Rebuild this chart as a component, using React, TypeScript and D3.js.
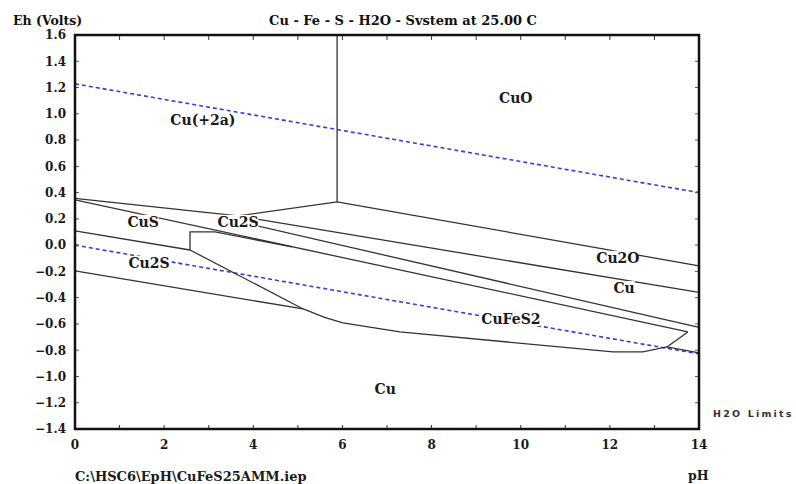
import React from 'react';
import * as d3 from 'd3';

const width = 796;
const height = 484;
const plot = { left: 75, right: 699, top: 35, bottom: 429 };

// pH / Eh tick values
const xTickLabels = [0, 2, 4, 6, 8, 10, 12, 14];
const xMinorTicks = [0, 1, 2, 3, 4, 5, 6, 7, 8, 9, 10, 11, 12, 13, 14];
const yTickLabels = [1.6, 1.4, 1.2, 1.0, 0.8, 0.6, 0.4, 0.2, 0.0, -0.2, -0.4, -0.6, -0.8, -1.0, -1.2, -1.4];

// phase boundaries, [pH, Eh]
const cuoVertical = [[5.88, 1.6], [5.88, 0.33]];
const cuoCu2o = [[3.66, 0.222], [5.88, 0.33], [14, -0.158]];
const cuAqCus = [[0, 0.356], [3.66, 0.222]];
const cu2oCu = [[3.66, 0.222], [14, -0.36]];
const cuUpper = [[3.7, 0.177], [14, -0.627]];
const cusLine = [[0, 0.344], [13.75, -0.661]];
const cufes2Top = [[2.58, -0.037], [2.58, 0.101], [3.14, 0.101], [4.87, -0.014]];
const cufes2Tip = [[13.75, -0.661], [13.28, -0.775]];
const cufes2Bottom = [
  [2.58, -0.037], [5.12, -0.486], [5.6, -0.55], [6.01, -0.592], [7.29, -0.661],
  [12.07, -0.813], [12.74, -0.813], [13.28, -0.775], [14, -0.821],
];
const cu2sLower = [[0, -0.196], [5.12, -0.486]];
const cu2sMid = [[0, 0.108], [2.58, -0.037]];

// water stability limits
const h2oUpper = [[0, 1.228], [14, 0.4]];
const h2oLower = [[0, 0], [14, -0.828]];

const regionNames = ['CuO', 'Cu(+2a)', 'CuS', 'Cu2S', 'Cu2S', 'Cu2O', 'Cu', 'CuFeS2', 'Cu'];
const regionPH = [9.89, 2.87, 1.53, 3.66, 1.66, 12.18, 12.32, 9.78, 6.96];
const regionEh = [1.12, 0.953, 0.177, 0.177, -0.136, -0.097, -0.326, -0.562, -1.095];

const boundaries = [
  cuoVertical, cuoCu2o, cuAqCus, cu2oCu, cuUpper, cusLine,
  cufes2Top, cufes2Tip, cufes2Bottom, cu2sLower, cu2sMid,
];

const serif = '"DejaVu Serif", serif';

function App() {
  const x = d3.scaleLinear().domain([0, 14]).range([plot.left, plot.right]);
  const y = d3.scaleLinear().domain([-1.4, 1.6]).range([plot.bottom, plot.top]);
  const line = d3
    .line<number[]>()
    .x((d) => x(d[0]))
    .y((d) => y(d[1]));

  return (
    <svg
      width={width}
      height={height}
      style={{ position: 'absolute', left: 0, top: 0, background: '#fff' }}
    >
      <text x={13} y={25} fontFamily={serif} fontWeight="bold" fontSize={12.5} fill="#111">
        Eh (Volts)
      </text>
      <text x={403} y={25} textAnchor="middle" fontFamily={serif} fontWeight="bold" fontSize={13} fill="#111">
        Cu - Fe - S - H2O - Svstem at 25.00 C
      </text>

      {/* water lines */}
      {[h2oUpper, h2oLower].map((d, i) => (
        <path
          key={'w' + i}
          d={line(d) || ''}
          fill="none"
          stroke="#3a3ae0"
          strokeWidth={1.6}
          strokeDasharray="4 3"
        />
      ))}

      {boundaries.map((d, i) => (
        <path key={'b' + i} d={line(d) || ''} fill="none" stroke="#333" strokeWidth={1.3} />
      ))}

      {/* region labels */}
      {regionNames.map((name, i) => {
        const w = name.length * 9.6;
        return (
          <g key={'r' + i} transform={`translate(${x(regionPH[i])},${y(regionEh[i])})`}>
            <rect x={-w / 2 - 1} y={-7} width={w + 2} height={14} fill="#fff" />
            <text
              textAnchor="middle"
              dy="0.35em"
              fontFamily={serif}
              fontWeight="bold"
              fontSize={14}
              fill="#1a1a1a"
            >
              {name}
            </text>
          </g>
        );
      })}

      {/* ticks */}
      {xMinorTicks.map((t) => (
        <g key={'xt' + t}>
          <line x1={x(t)} x2={x(t)} y1={plot.bottom} y2={plot.bottom - 4} stroke="#333" />
          <line x1={x(t)} x2={x(t)} y1={plot.top} y2={plot.top + 5} stroke="#333" />
        </g>
      ))}
      {yTickLabels.map((t) => (
        <g key={'yt' + t}>
          <line x1={plot.left} x2={plot.left + 4} y1={y(t)} y2={y(t)} stroke="#555" />
          <line x1={plot.right} x2={plot.right - 4} y1={y(t)} y2={y(t)} stroke="#555" />
          <text
            x={66}
            y={y(t)}
            dy="0.36em"
            textAnchor="end"
            fontFamily={serif}
            fontWeight="bold"
            fontSize={12}
            fill="#1a1a1a"
          >
            {d3.format('.1f')(t)}
          </text>
        </g>
      ))}
      {xTickLabels.map((t) => (
        <text
          key={'xl' + t}
          x={x(t)}
          y={449}
          textAnchor="middle"
          fontFamily={serif}
          fontWeight="bold"
          fontSize={12}
          fill="#1a1a1a"
        >
          {t}
        </text>
      ))}

      <rect
        x={plot.left}
        y={plot.top}
        width={plot.right - plot.left}
        height={plot.bottom - plot.top}
        fill="none"
        stroke="#111"
        strokeWidth={2.5}
      />

      <text
        x={713}
        y={417}
        fontFamily='"DejaVu Sans", sans-serif'
        fontWeight="bold"
        fontSize={9.5}
        letterSpacing={2.2}
        fill="#333"
      >
        H2O Limits
      </text>
      <text x={688} y={480} fontFamily={serif} fontWeight="bold" fontSize={12.5} fill="#1a1a1a">
        pH
      </text>
      <text x={75} y={481} fontFamily={serif} fontWeight="bold" fontSize={13} fill="#1a1a1a">
        C:\HSC6\EpH\CuFeS25AMM.iep
      </text>
    </svg>
  );
}

export default App;
